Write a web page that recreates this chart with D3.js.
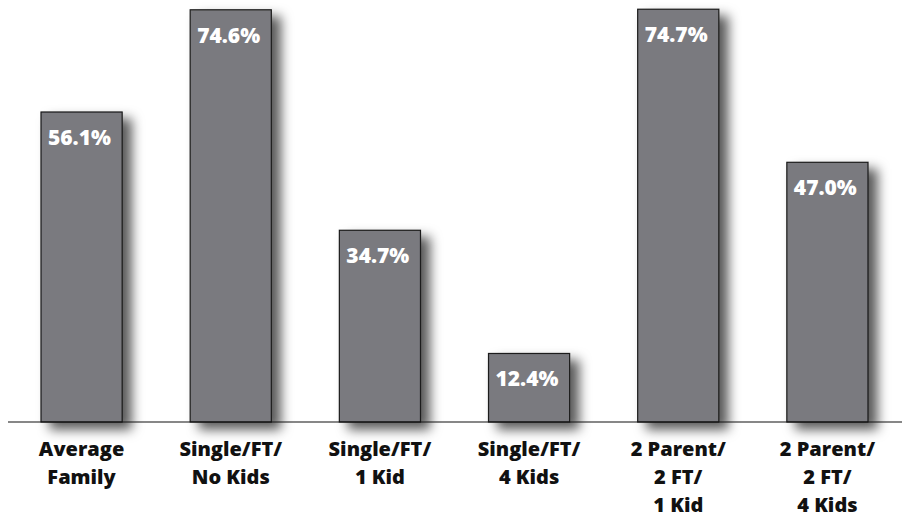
<!DOCTYPE html>
<html>
<head>
<meta charset="utf-8">
<script src="https://cdn.jsdelivr.net/npm/d3@7"></script>
<style>
  html, body { margin: 0; padding: 0; background: #fff; }
  svg { display: block; }
</style>
</head>
<body>
<svg id="chart" width="904" height="517"></svg>
<script>
// Share of budget by family type
const categories = [
  ["Average", "Family"],
  ["Single/FT/", "No Kids"],
  ["Single/FT/", "1 Kid"],
  ["Single/FT/", "4 Kids"],
  ["2 Parent/", "2 FT/", "1 Kid"],
  ["2 Parent/", "2 FT/", "4 Kids"]
];
const values = [56.1, 74.6, 34.7, 12.4, 74.7, 47.0];
const valueLabels = ["56.1%", "74.6%", "34.7%", "12.4%", "74.7%", "47.0%"];

const svg = d3.select("#chart");
const baseY = 422;

const x = d3.scaleBand()
  .domain(d3.range(categories.length))
  .range([7, 902])
  .paddingInner(0.456)
  .paddingOuter(0.228);

const y = d3.scaleLinear().domain([0, 76.37]).range([baseY, 0]);

const defs = svg.append("defs");
const f = defs.append("filter").attr("id", "shadow")
  .attr("x", "-30%").attr("y", "-30%").attr("width", "180%").attr("height", "170%");
f.append("feDropShadow")
  .attr("dx", 9).attr("dy", 7)
  .attr("stdDeviation", 6)
  .attr("flood-color", "#000")
  .attr("flood-opacity", 0.65);

const bars = svg.append("g").selectAll("g")
  .data(values)
  .join("g");

bars.append("rect")
  .attr("x", (d, i) => x(i))
  .attr("y", d => y(d))
  .attr("width", x.bandwidth())
  .attr("height", d => baseY - y(d))
  .attr("fill", "#7a7a7f")
  .attr("stroke", "#1a1a1a")
  .attr("stroke-width", 1.2)
  .attr("filter", "url(#shadow)");

bars.append("text")
  .attr("x", (d, i) => x(i) + 7)
  .attr("y", d => y(d) + 33)
  .attr("fill", "#fff")
  .attr("font-family", "'Open Sans', sans-serif")
  .attr("font-weight", 800)
  .attr("font-size", 21)
  .text((d, i) => valueLabels[i]);

// baseline
svg.append("line")
  .attr("x1", 8).attr("x2", 902)
  .attr("y1", baseY).attr("y2", baseY)
  .attr("stroke", "#111")
  .attr("stroke-width", 1.2);

// category labels
const cat = svg.append("g").selectAll("text")
  .data(categories)
  .join("text")
  .attr("x", (d, i) => x(i) + x.bandwidth() / 2)
  .attr("y", 456)
  .attr("text-anchor", "middle")
  .attr("fill", "#111")
  .attr("font-family", "'Open Sans', sans-serif")
  .attr("font-weight", 800)
  .attr("font-size", 20);

cat.selectAll("tspan")
  .data(d => d)
  .join("tspan")
  .attr("x", function () { return d3.select(this.parentNode).attr("x"); })
  .attr("dy", (d, j) => j === 0 ? 0 : 28)
  .text(d => d);
</script>
</body>
</html>
